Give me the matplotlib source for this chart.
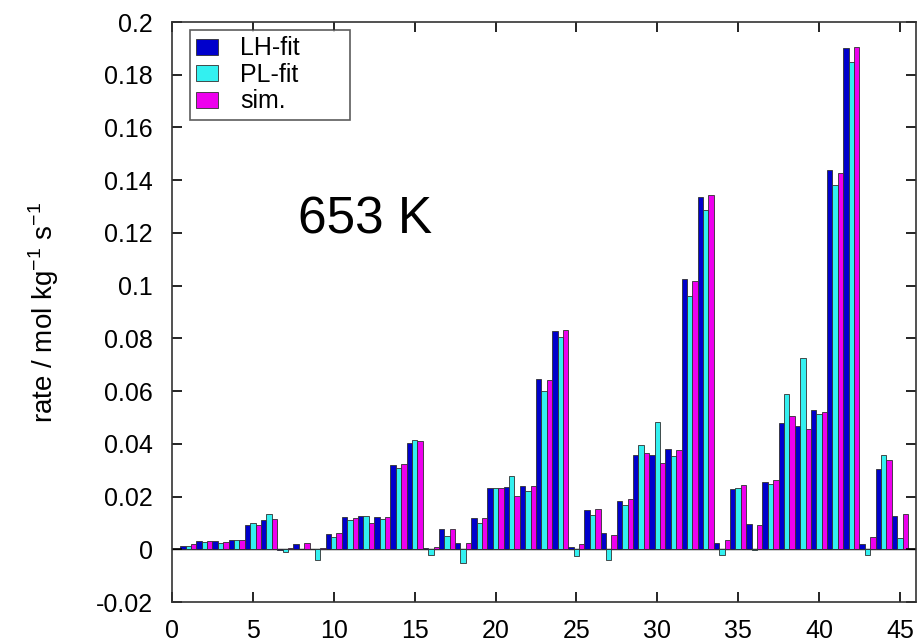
import numpy as np
import matplotlib
matplotlib.use('Agg')
import matplotlib.pyplot as plt

plt.rcParams['font.family'] = ['Liberation Sans', 'DejaVu Sans']

case = np.arange(1, 46)
lh_fit = [0.0014, 0.0033, 0.0032, 0.0034, 0.0091, 0.0111, -0.0003, 0.0019, 0.0000, 0.0059,
          0.0122, 0.0125, 0.0122, 0.0320, 0.0405, 0.0003, 0.0076, 0.0025, 0.0117, 0.0234,
          0.0237, 0.0240, 0.0645, 0.0827, 0.0010, 0.0150, 0.0060, 0.0183, 0.0357, 0.0356,
          0.0380, 0.1026, 0.1338, 0.0023, 0.0230, 0.0095, 0.0254, 0.0479, 0.0467, 0.0527,
          0.1440, 0.1902, 0.0021, 0.0306, 0.0128]
pl_fit = [0.0014, 0.0027, 0.0024, 0.0037, 0.0099, 0.0134, -0.0011, 0.0000, -0.0040, 0.0046,
          0.0111, 0.0125, 0.0115, 0.0310, 0.0415, -0.0020, 0.0050, -0.0053, 0.0100, 0.0234,
          0.0279, 0.0222, 0.0602, 0.0805, -0.0025, 0.0129, -0.0042, 0.0168, 0.0397, 0.0482,
          0.0355, 0.0960, 0.1288, -0.0023, 0.0232, -0.0003, 0.0249, 0.0590, 0.0725, 0.0513,
          0.1380, 0.1850, -0.0023, 0.0359, 0.0044]
sim = [0.0019, 0.0033, 0.0028, 0.0037, 0.0091, 0.0116, 0.0003, 0.0023, 0.0004, 0.0063,
       0.0118, 0.0101, 0.0122, 0.0325, 0.0410, 0.0009, 0.0077, 0.0024, 0.0119, 0.0232,
       0.0203, 0.0240, 0.0644, 0.0833, 0.0019, 0.0154, 0.0054, 0.0189, 0.0365, 0.0326,
       0.0375, 0.1019, 0.1342, 0.0034, 0.0243, 0.0092, 0.0263, 0.0507, 0.0456, 0.0519,
       0.1428, 0.1905, 0.0048, 0.0338, 0.0132]

series = [('LH-fit', lh_fit, '#0000cc'), ('PL-fit', pl_fit, '#33f0f0'), ('sim.', sim, '#ee00ee')]

fig = plt.figure(figsize=(9.2, 6.44), dpi=100)
ax = fig.add_axes([0.187, 0.0652, 0.8087, 0.9006])

w = 1.0 / 3
for k, (name, vals, color) in enumerate(series):
    ax.bar(case + (k - 1) * w, vals, width=w, color=color, edgecolor='#303030',
           linewidth=0.6, label=name)

ax.axhline(0, color='black', linewidth=1.0, zorder=0)

ax.set_xlim(0, 46)
ax.set_ylim(-0.02, 0.2)
ax.set_xticks(np.arange(0, 46, 5))
ax.set_yticks(np.arange(-0.02, 0.201, 0.02))
ax.set_yticklabels(['-0.02', '0', '0.02', '0.04', '0.06', '0.08', '0.1',
                    '0.12', '0.14', '0.16', '0.18', '0.2'])
ax.tick_params(direction='in', length=7, width=1.2, top=True, right=True, labelsize=18)
ax.tick_params(axis='y', pad=14)
ax.tick_params(axis='x', pad=12)
for sp in ax.spines.values():
    sp.set_linewidth(1.2)
    sp.set_color('#333333')

# hyphen superscripts like the original (no mathtext minus sign)
plt.rcParams['axes.unicode_minus'] = False
ax.set_ylabel('rate / mol kg$^{\\mathregular{-1}}$ s$^{\\mathregular{-1}}$', fontsize=20)
ax.yaxis.set_label_coords(-0.149, 0.5)
ax.text(0.169, 0.636, '653 K', transform=ax.transAxes, fontsize=37, va='baseline')

leg = ax.legend(loc='upper left', bbox_to_anchor=(0.0242, 0.786, 0.215, 0.2), mode='expand',
                fontsize=18, frameon=True, fancybox=False, edgecolor='#333333',
                handlelength=0.85, handleheight=0.6, borderpad=0.25, labelspacing=0.1,
                handletextpad=0.9, borderaxespad=0)
leg.get_frame().set_linewidth(1.2)

fig.savefig('out.png', dpi=100)
